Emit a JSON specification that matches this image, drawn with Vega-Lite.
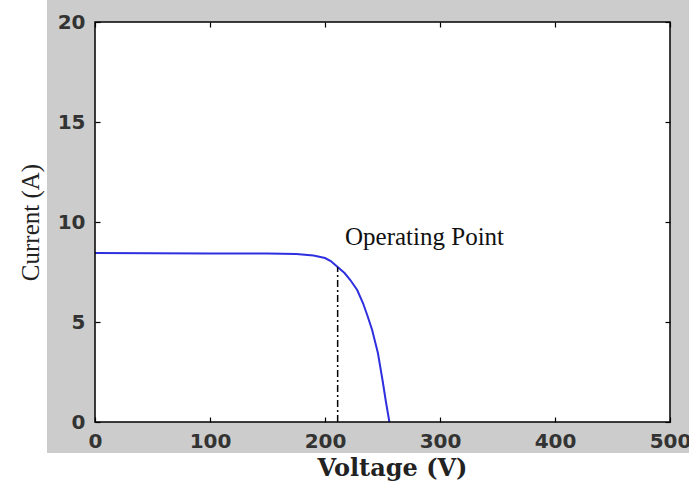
{
  "$schema": "https://vega.github.io/schema/vega-lite/v6.json",
  "width": 642,
  "height": 453,
  "autosize": {"type": "none"},
  "padding": {"left": 47, "top": 0, "right": 0, "bottom": 32},
  "background": "white",
  "config": {"view": {"fill": "#cccccc", "stroke": null}},
  "layer": [
    {
      "data": {"values": [{}]},
      "mark": {"type": "rect", "fill": "white", "stroke": null},
      "encoding": {
        "x": {
          "datum": 0, "type": "quantitative",
          "scale": {"domain": [-41.74, 516.52], "nice": false, "zero": false},
          "axis": {
            "orient": "bottom", "offset": -31, "values": [0, 100, 200, 300, 400, 500],
            "domain": false, "grid": false, "tickSize": -5, "tickColor": "#000", "tickWidth": 1.2,
            "labelPadding": 14, "labelFont": "DejaVu Sans", "labelFontWeight": "bold", "labelFontSize": 20,
            "labelColor": "#333", "labelFlush": false, "labelOverlap": false,
            "title": "Voltage (V)", "titleFont": "DejaVu Serif", "titleFontWeight": "bold", "titleFontSize": 24,
            "titleColor": "#222", "titleX": 345, "titleY": 53, "titleBaseline": "alphabetic", "titleAlign": "center",
            "zindex": 1
          }
        },
        "x2": {"datum": 500},
        "y": {
          "datum": 0, "type": "quantitative",
          "scale": {"domain": [-1.55, 21.1], "nice": false, "zero": false},
          "axis": {
            "orient": "left", "offset": -48, "values": [0, 5, 10, 15, 20],
            "domain": false, "grid": false, "tickSize": -5, "tickColor": "#000", "tickWidth": 1.2,
            "labelPadding": 15, "labelFont": "DejaVu Sans", "labelFontWeight": "bold", "labelFontSize": 20,
            "labelColor": "#333", "labelFlush": false, "labelOverlap": false,
            "title": "Current (A)", "titleFont": "Liberation Serif", "titleFontWeight": "normal", "titleFontSize": 25,
            "titleColor": "#222", "titleX": -65, "titleY": 222, "titleAngle": 270, "titleBaseline": "middle", "titleAlign": "center",
            "zindex": 1
          }
        },
        "y2": {"datum": 20}
      }
    },
    {
      "data": {
        "values": [
          {"voltage": 0, "current": 8.45},
          {"voltage": 50, "current": 8.44},
          {"voltage": 100, "current": 8.43},
          {"voltage": 150, "current": 8.42},
          {"voltage": 175, "current": 8.4},
          {"voltage": 190, "current": 8.32},
          {"voltage": 200, "current": 8.2},
          {"voltage": 205, "current": 8.05},
          {"voltage": 211, "current": 7.75},
          {"voltage": 217, "current": 7.45},
          {"voltage": 222, "current": 7.1},
          {"voltage": 228, "current": 6.6},
          {"voltage": 233, "current": 5.95},
          {"voltage": 237, "current": 5.3},
          {"voltage": 241, "current": 4.6},
          {"voltage": 246, "current": 3.45},
          {"voltage": 250, "current": 2.1},
          {"voltage": 253, "current": 1.0},
          {"voltage": 256, "current": 0.0}
        ]
      },
      "mark": {"type": "line", "color": "#2f2fe0", "strokeWidth": 2},
      "encoding": {
        "x": {"field": "voltage", "type": "quantitative", "axis": null},
        "y": {"field": "current", "type": "quantitative", "axis": null}
      }
    },
    {
      "data": {"values": [{}]},
      "mark": {"type": "rule", "color": "#000", "strokeWidth": 1.5, "strokeDash": [7, 3, 2, 3]},
      "encoding": {
        "x": {"datum": 211, "type": "quantitative", "axis": null},
        "y": {"datum": 0, "type": "quantitative", "axis": null},
        "y2": {"datum": 7.75}
      }
    },
    {
      "data": {"values": [{}]},
      "mark": {"type": "text", "text": "Operating Point", "font": "Liberation Serif", "fontSize": 25, "align": "left", "baseline": "alphabetic", "color": "#111"},
      "encoding": {
        "x": {"datum": 217.4, "type": "quantitative", "axis": null},
        "y": {"datum": 8.85, "type": "quantitative", "axis": null}
      }
    },
    {
      "data": {"values": [{}]},
      "mark": {"type": "rect", "fill": null, "fillOpacity": 0, "stroke": "#000", "strokeWidth": 1.5},
      "encoding": {
        "x": {
          "datum": 0, "type": "quantitative",
          "axis": {"orient": "top", "offset": -22, "values": [0, 100, 200, 300, 400, 500], "domain": false, "grid": false,
                   "tickSize": -5, "tickColor": "#000", "tickWidth": 1.2, "labels": false, "title": null, "zindex": 1}
        },
        "x2": {"datum": 500},
        "y": {
          "datum": 0, "type": "quantitative",
          "axis": {"orient": "right", "offset": -19, "values": [0, 5, 10, 15, 20], "domain": false, "grid": false,
                   "tickSize": -5, "tickColor": "#000", "tickWidth": 1.2, "labels": false, "title": null, "zindex": 1}
        },
        "y2": {"datum": 20}
      }
    }
  ]
}
